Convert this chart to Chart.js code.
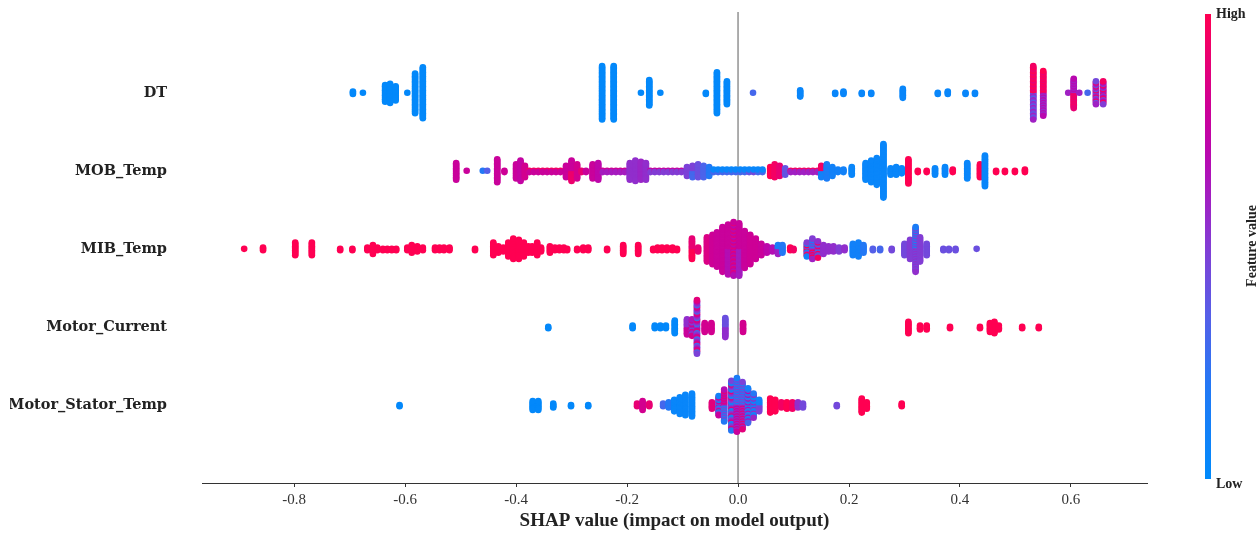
<!DOCTYPE html>
<html><head><meta charset="utf-8">
<script src="https://cdn.jsdelivr.net/npm/chart.js@4.4.1/dist/chart.umd.min.js"></script>
<style>html,body{margin:0;padding:0;background:#fff}canvas{display:block}</style>
</head><body>
<canvas id="c" width="1259" height="533"></canvas>
<script>
const features = ['DT', 'MOB_Temp', 'MIB_Temp', 'Motor_Current', 'Motor_Stator_Temp'];
const xTicks = [-0.8, -0.6, -0.4, -0.2, 0.0, 0.2, 0.4, 0.6];

// Each entry: [SHAP value, number of samples, feature value (0 = low, 1 = high) or a cycle of feature values]
const dtShap = [
  [-0.694, 3, 0.02], [-0.676, 1, 0.02],
  [-0.636, 14, 0.02], [-0.627, 16, 0.02], [-0.617, 12, 0.02], [-0.596, 1, 0.02],
  [-0.582, 32, 0.02], [-0.568, 41, 0.02],
  [-0.245, 43, 0.02], [-0.224, 43, 0.02],
  [-0.175, 1, 0.02], [-0.16, 21, 0.02], [-0.14, 1, 0.02],
  [-0.058, 2, 0.02], [-0.038, 33, 0.02], [-0.02, 19, 0.02],
  [0.027, 1, 0.3], [0.112, 6, 0.05],
  [0.175, 2, 0.05], [0.19, 3, 0.05], [0.223, 2, 0.05], [0.24, 2, 0.05],
  [0.297, 8, 0.05], [0.36, 2, 0.05], [0.378, 3, 0.05], [0.41, 2, 0.05], [0.427, 2, 0.05],
  [0.532, 43, [0.95, 0.5, 0.9, 0.35, 1.0, 0.6]],
  [0.55, 36, [0.9, 0.55, 1.0, 0.7]],
  [0.595, 1, 0.6], [0.605, 24, [0.6, 0.95, 0.7, 0.9]], [0.615, 1, 0.6],
  [0.63, 1, 0.3],
  [0.645, 19, [0.45, 0.9, 0.6]], [0.658, 19, [0.95, 0.7, 0.5]]
];

const mobShap = [
  [-0.508, 14, 0.78], [-0.489, 1, 0.78], [-0.46, 1, 0.2], [-0.452, 1, 0.35],
  [-0.434, 19, 0.78], [-0.421, 2, 0.8],
  [-0.4, 12, 0.78], [-0.392, 17, 0.75], [-0.384, 10, 0.82],
  [-0.376, 2, [0.95, 0.78]], [-0.368, 2, [0.95, 0.78]], [-0.36, 2, [0.95, 0.78]], [-0.352, 2, [0.95, 0.78]],
  [-0.344, 2, [0.95, 0.78]], [-0.336, 2, [0.95, 0.78]], [-0.328, 2, [0.95, 0.78]], [-0.32, 2, [0.95, 0.78]],
  [-0.31, 10, 0.78], [-0.3, 17, [0.78, 0.92]], [-0.29, 12, 0.82],
  [-0.282, 2, 0.9], [-0.274, 2, 0.78],
  [-0.262, 12, 0.78], [-0.252, 14, 0.72],
  [-0.244, 2, [0.8, 0.62]], [-0.236, 2, [0.8, 0.62]], [-0.228, 2, [0.8, 0.62]], [-0.22, 2, [0.8, 0.62]],
  [-0.212, 2, [0.8, 0.62]], [-0.204, 2, [0.8, 0.62]],
  [-0.195, 14, 0.55], [-0.185, 17, 0.55], [-0.175, 15, 0.58], [-0.166, 14, 0.55],
  [-0.158, 2, [0.75, 0.5]], [-0.15, 2, [0.75, 0.5]], [-0.142, 2, [0.75, 0.5]], [-0.134, 2, [0.75, 0.5]],
  [-0.126, 2, [0.75, 0.5]], [-0.118, 2, [0.75, 0.5]], [-0.11, 2, [0.75, 0.5]], [-0.102, 2, [0.75, 0.5]],
  [-0.092, 8, 0.48], [-0.082, 10, [0.48, 0.3]], [-0.072, 11, 0.42], [-0.062, 10, 0.32], [-0.052, 8, 0.2],
  [-0.044, 3, [0.15, 0.3, 0.05]], [-0.036, 3, [0.15, 0.3, 0.05]], [-0.028, 3, [0.15, 0.3, 0.05]],
  [-0.02, 3, [0.15, 0.3, 0.05]], [-0.012, 3, [0.15, 0.3, 0.05]], [-0.004, 3, [0.15, 0.3, 0.05]],
  [0.004, 3, [0.15, 0.3, 0.05]], [0.012, 3, [0.15, 0.3, 0.05]], [0.02, 3, [0.15, 0.4, 0.05]],
  [0.028, 3, [0.15, 0.45, 0.05]], [0.036, 3, [0.15, 0.3, 0.05]], [0.044, 3, [0.1, 0.3, 0.05]],
  [0.058, 8, 1.0], [0.066, 11, 0.95], [0.075, 9, 0.9], [0.085, 6, 0.4],
  [0.095, 2, [0.95, 0.6]], [0.103, 2, [0.95, 0.6]], [0.111, 2, [0.95, 0.6]], [0.119, 2, [0.95, 0.6]],
  [0.127, 2, [0.95, 0.6]], [0.135, 2, [0.95, 0.6]], [0.143, 2, [0.95, 0.6]],
  [0.15, 10, [0.95, 0.1]], [0.16, 12, 0.15], [0.17, 8, 0.1],
  [0.18, 3, 0.1], [0.19, 3, 0.1], [0.205, 7, 0.05],
  [0.23, 14, 0.05], [0.24, 18, 0.05], [0.25, 22, 0.05], [0.262, 43, 0.05],
  [0.275, 6, 0.05], [0.285, 7, 0.05], [0.295, 5, 0.05],
  [0.307, 20, 1.0], [0.324, 2, 1.0], [0.34, 2, 1.0], [0.355, 6, 0.05], [0.373, 7, 0.05], [0.387, 3, 1.0],
  [0.413, 13, 0.05], [0.436, 11, 1.0], [0.445, 25, 0.05],
  [0.465, 2, 1.0], [0.481, 2, 1.0], [0.499, 2, 1.0], [0.517, 3, 1.0]
];

const mibShap = [
  [-0.89, 1, 1.0], [-0.856, 3, 1.0], [-0.798, 11, 1.0], [-0.768, 11, 1.0], [-0.717, 2, 1.0], [-0.695, 2, 1.0],
  [-0.668, 3, 1.0], [-0.658, 8, 1.0], [-0.65, 3, 1.0],
  [-0.64, 2, 1.0], [-0.632, 2, 1.0], [-0.624, 2, 1.0], [-0.616, 2, 1.0],
  [-0.596, 3, 1.0], [-0.588, 7, 1.0], [-0.578, 5, 1.0], [-0.568, 3, 1.0],
  [-0.546, 3, 1.0], [-0.538, 3, 1.0], [-0.53, 3, 1.0], [-0.52, 3, 1.0],
  [-0.474, 2, 1.0],
  [-0.441, 11, 1.0], [-0.432, 6, 1.0], [-0.423, 4, 1.0],
  [-0.414, 12, 1.0], [-0.405, 17, 1.0], [-0.395, 16, 1.0], [-0.386, 12, 1.0], [-0.378, 6, 1.0],
  [-0.371, 6, 1.0], [-0.362, 11, 1.0], [-0.355, 4, 1.0],
  [-0.339, 6, 1.0], [-0.33, 3, 1.0], [-0.322, 3, 1.0], [-0.314, 3, 1.0], [-0.308, 2, 1.0],
  [-0.29, 2, 1.0], [-0.279, 3, 1.0], [-0.27, 3, 1.0],
  [-0.236, 2, 1.0], [-0.207, 8, 1.0], [-0.18, 8, 1.0],
  [-0.153, 2, 1.0], [-0.145, 3, 1.0], [-0.137, 3, 1.0], [-0.128, 3, 1.0], [-0.118, 3, 1.0], [-0.11, 2, 1.0],
  [-0.083, 17, [0.9, 1.0]], [-0.072, 4, 0.9], [-0.056, 20, 0.85], [-0.046, 24, 0.8], [-0.038, 28, 0.78],
  [-0.028, 36, 0.78], [-0.018, 40, [0.78, 0.68]], [-0.008, 43, [0.78, 0.88, 0.68]], [0.002, 42, [0.78, 0.62]],
  [0.012, 30, 0.78], [0.022, 24, 0.8], [0.032, 17, 0.8], [0.042, 10, 0.78], [0.052, 6, 0.72], [0.062, 4, 0.68],
  [0.072, 8, [0.15, 0.6]], [0.08, 7, 0.2], [0.094, 3, 1.0], [0.1, 2, 0.95],
  [0.124, 12, [1.0, 0.5, 0.1]], [0.134, 17, [0.5, 1.0, 0.2, 0.6]], [0.144, 14, [0.55, 0.95, 0.3]],
  [0.154, 8, 0.55], [0.163, 5, 0.55], [0.172, 5, 0.55], [0.182, 4, 0.5], [0.192, 3, 0.55],
  [0.207, 10, 0.1], [0.217, 12, 0.1], [0.226, 7, 0.2],
  [0.243, 2, 0.35], [0.256, 2, 0.3], [0.277, 2, 0.45],
  [0.3, 10, 0.45], [0.31, 16, 0.5], [0.32, 36, [0.5, 0.45, 0.15, 0.55]], [0.328, 20, 0.5], [0.34, 10, 0.45],
  [0.37, 2, 0.42], [0.38, 2, 0.42], [0.392, 2, 0.42], [0.43, 1, 0.42]
];

const currentShap = [
  [-0.342, 2, 0.02], [-0.19, 3, 0.02], [-0.15, 3, 0.02], [-0.14, 3, 0.02], [-0.13, 3, 0.02], [-0.114, 11, 0.02],
  [-0.092, 13, [0.55, 0.78]], [-0.083, 14, [0.65, 0.82, 0.48]], [-0.074, 43, [0.78, 0.48, 0.88, 0.58, 0.3]],
  [-0.06, 8, 0.82], [-0.048, 8, 0.82], [-0.023, 16, [0.42, 0.55]], [0.009, 8, 0.82],
  [0.307, 10, 1.0], [0.328, 4, 1.0], [0.34, 4, 1.0], [0.382, 2, 1.0], [0.436, 2, 1.0],
  [0.454, 8, 1.0], [0.462, 10, 1.0], [0.47, 4, 1.0], [0.512, 2, 1.0], [0.542, 2, 1.0]
];

const statorShap = [
  [-0.61, 2, 0.02], [-0.37, 8, 0.02], [-0.36, 8, 0.02], [-0.333, 4, 0.02], [-0.301, 2, 0.02], [-0.27, 2, 0.02],
  [-0.182, 3, 0.9], [-0.172, 8, 0.82], [-0.16, 3, 0.9],
  [-0.135, 3, 0.3], [-0.125, 5, 0.2], [-0.115, 10, 0.05], [-0.105, 14, 0.05], [-0.095, 17, 0.05], [-0.083, 19, 0.05],
  [-0.047, 6, 0.88], [-0.035, 16, [0.78, 0.48, 0.1]], [-0.025, 26, [0.68, 0.2, 0.88, 0.48]],
  [-0.012, 40, [0.58, 0.1, 0.88, 0.48, 0.2]], [-0.002, 43, [0.48, 0.78, 0.15, 0.58]], [0.008, 38, [0.48, 0.88, 0.2, 0.58]],
  [0.018, 28, [0.3, 0.68, 0.1]], [0.028, 20, [0.2, 0.58, 0.05]], [0.038, 10, [0.1, 0.48]],
  [0.058, 12, 1.0], [0.067, 10, 1.0], [0.078, 5, 0.95], [0.088, 6, 1.0], [0.098, 6, 0.95], [0.108, 5, 0.55], [0.117, 4, 0.45],
  [0.178, 2, 0.45], [0.223, 12, 1.0], [0.232, 6, 1.0], [0.295, 3, 1.0]
];

const rows = [dtShap, mobShap, mibShap, currentShap, statorShap];

// Blue (low) to red (high) colour ramp
const rampStops = [
  [0.0, [0, 138, 251]],
  [0.2, [35, 120, 245]],
  [0.35, [85, 95, 232]],
  [0.5, [130, 60, 212]],
  [0.6, [160, 32, 195]],
  [0.7, [185, 8, 175]],
  [0.8, [205, 0, 150]],
  [0.9, [232, 0, 115]],
  [1.0, [255, 0, 82]]
];
function rampColor(v) {
  v = Math.max(0, Math.min(1, v));
  for (let i = 1; i < rampStops.length; i++) {
    const [p1, c1] = rampStops[i];
    const [p0, c0] = rampStops[i - 1];
    if (v <= p1) {
      const t = (v - p0) / (p1 - p0);
      const c = c0.map((a, k) => Math.round(a + (c1[k] - a) * t));
      return `rgb(${c[0]},${c[1]},${c[2]})`;
    }
  }
  return 'rgb(255,0,82)';
}

// Beeswarm stacking: samples sharing a value alternate above / below the row centre
function buildRow(groups, rowIndex) {
  const maxN = Math.max(...groups.map(g => g[1]));
  const maxLayer = Math.ceil((maxN - 1) / 2);
  const step = 0.9 * 0.4 / (maxLayer + 1);
  const pts = [], cols = [];
  groups.forEach(([x, n, fv]) => {
    for (let k = 0; k < n; k++) {
      const layer = Math.ceil(k / 2) * ((k % 2) * 2 - 1);
      const f = Array.isArray(fv) ? fv[k % fv.length] : fv;
      pts.push({ x: x, y: rowIndex + layer * step });
      cols.push(rampColor(f));
    }
  });
  return { pts, cols };
}

const datasets = rows.map((g, i) => {
  const r = buildRow(g, i);
  return {
    label: features[i],
    data: r.pts,
    pointBackgroundColor: r.cols,
    pointBorderWidth: 0,
    pointRadius: 3.3,
    pointHoverRadius: 3.3
  };
});

const SERIF = "'Liberation Serif', 'DejaVu Serif', serif";

const decorations = {
  id: 'decorations',
  beforeDatasetsDraw(chart) {
    const { ctx, scales: { x }, chartArea } = chart;
    const x0 = x.getPixelForValue(0);
    ctx.save();
    ctx.strokeStyle = '#999999';
    ctx.lineWidth = 1.6;
    ctx.beginPath();
    ctx.moveTo(x0, 12);
    ctx.lineTo(x0, chartArea.bottom);
    ctx.stroke();
    ctx.restore();
  },
  afterDraw(chart) {
    const { ctx, scales: { y } } = chart;
    ctx.save();
    // feature names
    ctx.beginPath();
    ctx.rect(10, 0, 200, 533);
    ctx.clip();
    ctx.fillStyle = '#222';
    ctx.font = "bold 14.5px 'DejaVu Serif', serif";
    ctx.textAlign = 'right';
    ctx.textBaseline = 'middle';
    features.forEach((f, i) => ctx.fillText(f, 167, y.getPixelForValue(i)));
    ctx.restore();

    // colour bar
    ctx.save();
    const top = 14, bottom = 479, bx = 1205, bw = 6;
    const grad = ctx.createLinearGradient(0, bottom, 0, top);
    for (let s = 0; s <= 20; s++) grad.addColorStop(s / 20, rampColor(s / 20));
    ctx.fillStyle = grad;
    ctx.fillRect(bx, top, bw, bottom - top);
    ctx.fillStyle = '#222';
    ctx.font = 'bold 14px ' + SERIF;
    ctx.textAlign = 'left';
    ctx.textBaseline = 'middle';
    ctx.fillText('High', 1216, 14);
    ctx.fillText('Low', 1216, 484);
    ctx.translate(1252, 246);
    ctx.rotate(-Math.PI / 2);
    ctx.textAlign = 'center';
    ctx.fillText('Feature value', 0, 0);
    ctx.restore();
  }
};

new Chart(document.getElementById('c'), {
  type: 'scatter',
  data: { datasets },
  options: {
    responsive: false,
    animation: false,
    devicePixelRatio: 1,
    layout: { padding: { left: 202, right: 112, top: 14.7, bottom: 0 } },
    plugins: { legend: { display: false }, tooltip: { enabled: false } },
    scales: {
      x: {
        type: 'linear',
        min: -0.966,
        max: 0.737,
        afterBuildTicks(scale) { scale.ticks = xTicks.map(v => ({ value: v })); },
        afterFit(scale) { scale.height = 50; },
        grid: { drawOnChartArea: false, drawTicks: true, tickLength: 4, color: '#333' },
        border: { display: true, color: '#333', width: 1 },
        ticks: {
          color: '#333',
          padding: 4,
          font: { family: SERIF, size: 15 },
          callback: v => (v < 0 ? '-' : '') + Math.abs(v).toFixed(1)
        },
        title: {
          display: true,
          text: 'SHAP value (impact on model output)',
          color: '#222',
          font: { family: SERIF, size: 19, weight: 'bold' },
          padding: { top: 0, bottom: 1 }
        }
      },
      y: {
        display: false,
        min: -1,
        max: 5,
        reverse: true
      }
    }
  },
  plugins: [decorations]
});
</script>
</body></html>
